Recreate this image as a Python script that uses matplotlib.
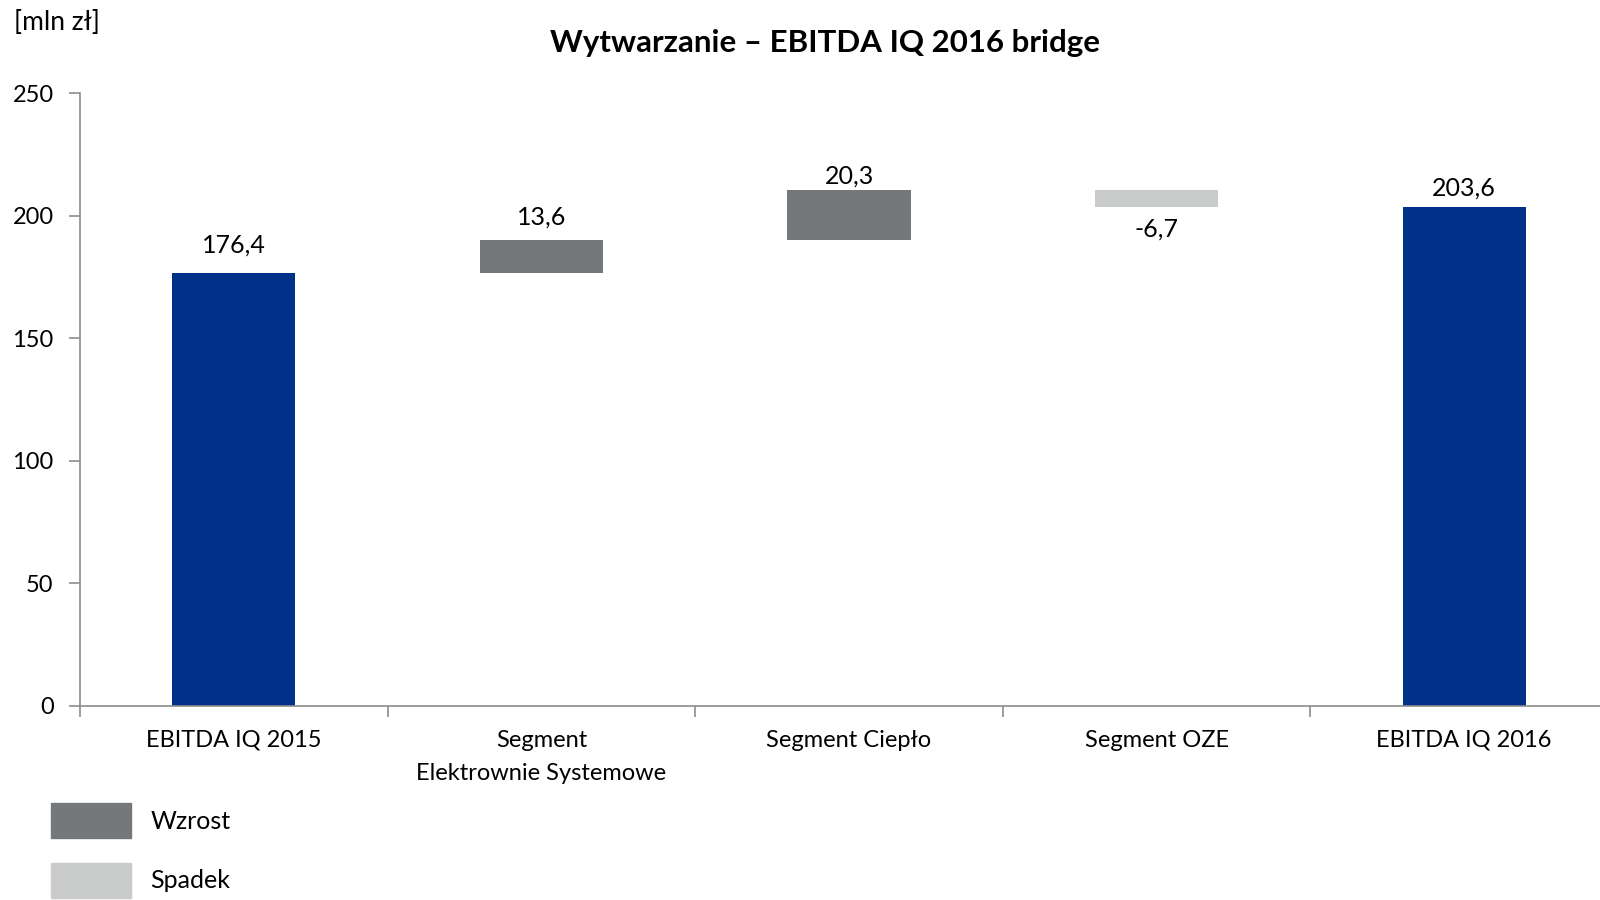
import numpy as np
import matplotlib
matplotlib.use("Agg")
import matplotlib.pyplot as plt
from matplotlib.patches import Patch

plt.rcParams['font.family'] = ['Lato', 'DejaVu Sans']

# data
categories = ["EBITDA IQ 2015", "Segment\nElektrownie Systemowe", "Segment Ciepło",
              "Segment OZE", "EBITDA IQ 2016"]
values = [176.4, 13.6, 20.3, -6.7, 203.6]
is_total = [True, False, False, False, True]
value_labels = ["176,4", "13,6", "20,3", "-6,7", "203,6"]

# label gap from bar edge, in points (as placed in the original)
label_gap = [12.5, 8.5, 2, 8, 5]

BLUE = "#003087"
UP = "#75787b"
DOWN = "#c9caca"
AXIS = "#8c8c8c"

# waterfall bottoms/heights
bottoms = []
heights = []
colors = []
running = 0.0
for v, tot in zip(values, is_total):
    if tot:
        bottoms.append(0.0)
        heights.append(v)
        colors.append(BLUE)
        running = v
    else:
        if v >= 0:
            bottoms.append(running)
            colors.append(UP)
        else:
            bottoms.append(running + v)
            colors.append(DOWN)
        heights.append(abs(v))
        running += v

fig = plt.figure(figsize=(16, 9), dpi=100)
ax = fig.add_axes([80 / 1600, 1 - 706 / 900, 1538 / 1600, 613 / 900])

x = np.arange(len(categories))
ax.bar(x, heights, bottom=bottoms, width=0.4, color=colors, zorder=2)

for i, (v, b, h) in enumerate(zip(values, bottoms, heights)):
    if v >= 0:
        ax.annotate(value_labels[i], (x[i], b + h), xytext=(0, label_gap[i]),
                    textcoords='offset points', ha='center', va='bottom', fontsize=18)
    else:
        ax.annotate(value_labels[i], (x[i], b), xytext=(0, -label_gap[i]),
                    textcoords='offset points', ha='center', va='top', fontsize=18)

ax.set_xlim(-0.5, len(categories) - 0.5)
ax.set_ylim(0, 250)
ax.set_yticks(range(0, 251, 50))
ax.tick_params(axis='y', labelsize=17, length=8, color=AXIS, width=1.2, pad=11)

# category labels between boundary ticks
ax.set_xticks(np.arange(-0.5, len(categories), 1.0))
ax.set_xticklabels([])
ax.tick_params(axis='x', length=8, color=AXIS, width=1.2)
ax.set_xticks(x, minor=True)
ax.set_xticklabels(categories, minor=True, fontsize=17, linespacing=1.75)
ax.tick_params(axis='x', which='minor', length=0, pad=17)

for s in ['top', 'right']:
    ax.spines[s].set_visible(False)
for s in ['left', 'bottom']:
    ax.spines[s].set_color(AXIS)
    ax.spines[s].set_linewidth(1.2)

fig.text(825 / 1600, 1 - 43 / 900, "Wytwarzanie – EBITDA IQ 2016 bridge",
         ha='center', va='center', fontsize=22.5, fontweight='bold')
fig.text(14 / 1600, 1 - 23 / 900, "[mln zł]", ha='left', va='center', fontsize=19)

handles = [Patch(color=UP, label="Wzrost"), Patch(color=DOWN, label="Spadek")]
fig.legend(handles=handles, loc='lower left', bbox_to_anchor=(28 / 1600, -20 / 900),
           frameon=False, fontsize=18, handlelength=3.2, handleheight=1.75,
           labelspacing=1.0, handletextpad=0.8)

fig.savefig("out.png", dpi=100)
